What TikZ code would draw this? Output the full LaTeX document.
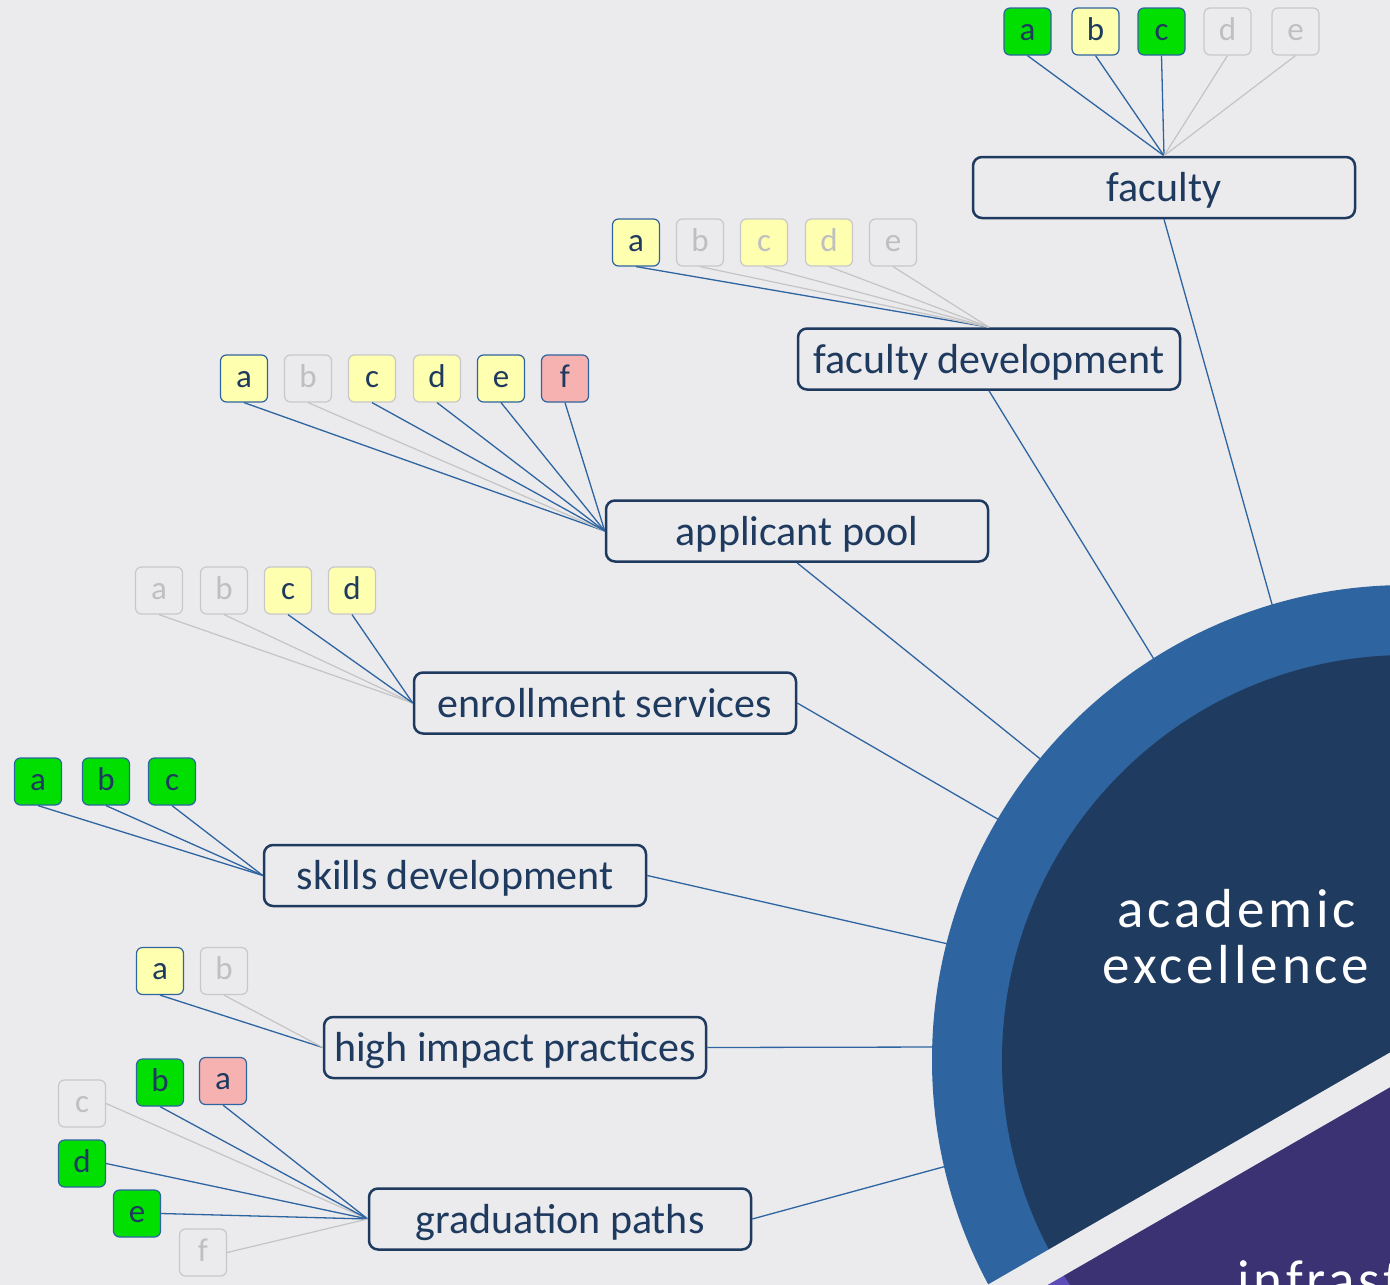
\documentclass[tikz,border=0pt]{standalone}
\usepackage{fontspec}
\setmainfont{Carlito}
\newfontfamily\bigfont[LetterSpace=7]{Carlito}
\definecolor{bg}{HTML}{EBEBEE}
\definecolor{navy}{HTML}{1F3A5F}
\definecolor{lnblue}{HTML}{2E64A0}
\definecolor{ringblue}{HTML}{2E64A0}
\definecolor{darkblue}{HTML}{1F3B5F}
\definecolor{ringpurple}{HTML}{5B4CB8}
\definecolor{darkpurple}{HTML}{3A3272}
\definecolor{sqgreen}{HTML}{00DF00}
\definecolor{sqyellow}{HTML}{FFFFB0}
\definecolor{sqpink}{HTML}{F6B2B0}
\definecolor{gborder}{HTML}{C8C8C8}
\definecolor{gtext}{HTML}{BFBFBF}
\definecolor{gline}{HTML}{C4C4C4}
\begin{document}
\begin{tikzpicture}[x=1pt,y=-1pt,
  box/.style={draw=navy, line width=2.5pt, rounded corners=9pt, minimum width=382pt,
    minimum height=61pt, inner sep=0pt, fill=bg, text=navy,
    font=\fontsize{42}{50}\selectfont, text height=30pt, text depth=1.6pt},
  sq/.style={rectangle, rounded corners=6pt, minimum size=47pt, inner sep=0pt,
    line width=1.2pt, font=\fontsize{33}{37}\selectfont, text height=20pt, text depth=2.4pt},
  sqG/.style={sq, fill=sqgreen, draw=lnblue, text=navy},
  sqY/.style={sq, fill=sqyellow, draw=lnblue, text=navy},
  sqP/.style={sq, fill=sqpink, draw=lnblue, text=navy},
  sqYg/.style={sq, fill=sqyellow, draw=gborder, text=navy},
  sqYgg/.style={sq, fill=sqyellow, draw=gborder, text=gtext},
  sqN/.style={sq, fill=bg, draw=gborder, text=gtext},
  cb/.style={draw=lnblue, line width=1.3pt},
  cg/.style={draw=gline, line width=1.2pt},
  bigtxt/.style={text=white, inner sep=0pt, font=\bigfont\fontsize{55}{60}\selectfont}
]
\useasboundingbox (0,0) rectangle (1390,1285);
\fill[bg] (0,0) rectangle (1390,1285);
\clip (0,0) rectangle (1390,1285);

% main boxes
\node[box] (fac) at (1164,187.5) {faculty};
\node[box] (fdev) at (989,359) {faculty development};
\node[box] (apool) at (797,531) {applicant pool};
\node[box] (enrol) at (605,703) {enrollment services};
\node[box] (skill) at (455,875.5) {skills development};
\node[box] (hip) at (515,1047.5) {high impact practices};
\node[box] (grad) at (560,1219) {graduation paths};

% faculty group
\node[sqG] (f1) at (1027.5,31.5) {a};
\node[sqY] (f2) at (1095.5,31.5) {b};
\node[sqG] (f3) at (1161.5,31.5) {c};
\node[sqN] (f4) at (1227.5,31.5) {d};
\node[sqN] (f5) at (1295.5,31.5) {e};
% faculty development group
\node[sqY] (fd1) at (636,242.5) {a};
\node[sqN] (fd2) at (700,242.5) {b};
\node[sqYgg] (fd3) at (764,242.5) {c};
\node[sqYgg] (fd4) at (829,242.5) {d};
\node[sqN] (fd5) at (893,242.5) {e};
% applicant pool group
\node[sqY] (ap1) at (244,378.5) {a};
\node[sqN] (ap2) at (308,378.5) {b};
\node[sqYg] (ap3) at (372,378.5) {c};
\node[sqYg] (ap4) at (437,378.5) {d};
\node[sqY] (ap5) at (501,378.5) {e};
\node[sqP] (ap6) at (565,378.5) {f};
% enrollment group
\node[sqN] (en1) at (159,590.5) {a};
\node[sqN] (en2) at (224,590.5) {b};
\node[sqYg] (en3) at (288,590.5) {c};
\node[sqYg] (en4) at (352,590.5) {d};
% skills group
\node[sqG] (sk1) at (38,781.5) {a};
\node[sqG] (sk2) at (106,781.5) {b};
\node[sqG] (sk3) at (172,781.5) {c};
% high impact group
\node[sqY] (hp1) at (160,971) {a};
\node[sqN] (hp2) at (224,971) {b};
% graduation group
\node[sqN] (gc) at (82,1103.5) {c};
\node[sqG] (gb) at (160,1082.5) {b};
\node[sqP] (ga) at (223,1081) {a};
\node[sqG] (gd) at (82,1163.5) {d};
\node[sqG] (ge) at (137,1213.5) {e};
\node[sqN] (gf) at (203,1252.5) {f};

% connectors squares -> boxes
\draw[cb] (f1.south) -- (fac.north);
\draw[cb] (f2.south) -- (fac.north);
\draw[cb] (f3.south) -- (fac.north);
\draw[cg] (f4.south) -- (fac.north);
\draw[cg] (f5.south) -- (fac.north);

\draw[cb] (fd1.south) -- (fdev.north);
\draw[cg] (fd2.south) -- (fdev.north);
\draw[cg] (fd3.south) -- (fdev.north);
\draw[cg] (fd4.south) -- (fdev.north);
\draw[cg] (fd5.south) -- (fdev.north);

\draw[cb] (ap1.south) -- (apool.west);
\draw[cg] (ap2.south) -- (apool.west);
\draw[cb] (ap3.south) -- (apool.west);
\draw[cb] (ap4.south) -- (apool.west);
\draw[cb] (ap5.south) -- (apool.west);
\draw[cb] (ap6.south) -- (apool.west);

\draw[cg] (en1.south) -- (enrol.west);
\draw[cg] (en2.south) -- (enrol.west);
\draw[cb] (en3.south) -- (enrol.west);
\draw[cb] (en4.south) -- (enrol.west);

\draw[cb] (sk1.south) -- (skill.west);
\draw[cb] (sk2.south) -- (skill.west);
\draw[cb] (sk3.south) -- (skill.west);

\draw[cb] (hp1.south) -- (hip.west);
\draw[cg] (hp2.south) -- (hip.west);

\draw[cg] (gc.east) -- (grad.west);
\draw[cb] (gb.south) -- (grad.west);
\draw[cb] (ga.south) -- (grad.west);
\draw[cb] (gd.east) -- (grad.west);
\draw[cb] (ge.east) -- (grad.west);
\draw[cg] (gf.east) -- (grad.west);

% connectors boxes -> circle
\coordinate (cfac) at (1275,615);
\coordinate (cfdev) at (1160,669);
\coordinate (capool) at (1049,766);
\coordinate (cenrol) at (1008,825);
\coordinate (cskill) at (957,946);
\coordinate (chip) at (942,1047);
\coordinate (cgrad) at (954,1164);
\draw[cb] (fac.south) -- (cfac);
\draw[cb] (fdev.south) -- (cfdev);
\draw[cb] (apool.south) -- (capool);
\draw[cb] (enrol.east) -- (cenrol);
\draw[cb] (skill.east) -- (cskill);
\draw[cb] (hip.east) -- (chip);
\draw[cb] (grad.east) -- (cgrad);

% pie
\coordinate (C) at (1407,1060);
\coordinate (P1) at (-325,2060);
\coordinate (P2) at (1753,860);
\begin{scope}
  \clip (P1) -- (-400,-100) -- (1800,-100) -- (P2) -- cycle;
  \fill[ringblue] (C) circle (475);
  \fill[darkblue] (C) circle (405);
\end{scope}
\begin{scope}
  \clip (P1) -- (P2) -- (1800,2200) -- (-400,2200) -- cycle;
  \fill[ringpurple] (C) circle (475);
  \fill[darkpurple] (C) circle (405);
\end{scope}
\draw[bg, line width=30pt] (C) -- (P1);

\node[bigtxt, anchor=base] (ae1) at (1237,927) {academic};
\node[bigtxt, anchor=base] (ae2) at (1236,983) {excellence};
\node[bigtxt, anchor=base west] (infra) at (1237,1298) {infrastructure};
\end{tikzpicture}
\end{document}
